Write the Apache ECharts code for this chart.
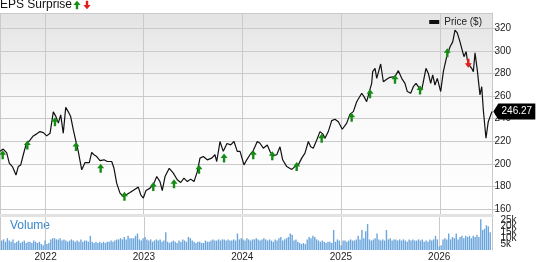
<!DOCTYPE html>
<html>
<head>
<meta charset="utf-8">
<script src="https://cdn.jsdelivr.net/npm/echarts@6/dist/echarts.min.js"></script>
<style>
html,body{margin:0;padding:0;background:#fff;}
#c{width:538px;height:262px;}
</style>
</head>
<body>
<div id="c"></div>
<script>
// ---- data (dates as decimal years) ----
const priceT = [2021.544,2021.577,2021.612,2021.638,2021.673,2021.706,2021.729,2021.754,2021.780,2021.807,2021.848,2021.881,2021.916,2021.949,2021.983,
2022.017,2022.051,2022.084,2022.111,2022.135,2022.159,2022.185,2022.210,2022.236,2022.260,2022.287,2022.314,2022.337,2022.372,2022.405,2022.449,2022.473,2022.496,2022.524,2022.557,2022.598,2022.631,2022.676,2022.699,2022.726,2022.760,2022.793,2022.861,2022.912,2022.945,2022.970,2022.996,
2023.023,2023.064,2023.097,2023.132,2023.165,2023.188,2023.216,2023.259,2023.300,2023.340,2023.375,2023.408,2023.442,2023.476,2023.510,2023.543,2023.570,2023.604,2023.644,2023.689,2023.722,2023.740,2023.773,2023.806,2023.844,2023.881,2023.915,2023.948,2023.976,
2024.016,2024.044,2024.077,2024.110,2024.151,2024.178,2024.212,2024.252,2024.280,2024.313,2024.348,2024.381,2024.408,2024.449,2024.500,2024.533,2024.566,2024.601,2024.634,2024.668,2024.692,2024.718,2024.753,2024.786,2024.814,2024.837,2024.870,2024.905,2024.938,2024.972,
2025.012,2025.057,2025.090,2025.124,2025.158,2025.209,2025.232,2025.259,2025.286,2025.310,2025.320,2025.344,2025.361,2025.384,2025.401,2025.428,2025.462,2025.495,2025.546,2025.580,2025.614,2025.647,2025.671,2025.705,2025.732,2025.759,2025.782,2025.817,2025.840,2025.860,2025.884,2025.908,2025.928,2025.951,2025.975,
2026.009,2026.036,2026.070,2026.104,2026.131,2026.154,2026.177,2026.205,2026.222,2026.245,2026.266,2026.279,2026.299,2026.323,2026.340,2026.357,2026.380,2026.407,2026.425,2026.441,2026.468,2026.491,2026.516,2026.529];
const priceV = [211,213,209.6,200.5,197,190,197.5,199,208,216.7,221,224.7,226.5,228.5,227.6,
224.7,227,246,241.8,236,243.3,227,250,246,241.8,230,219.7,211,194.6,201,201,210,208,206.4,202.8,203.5,202,202,196,182.8,174,171,174.5,177.5,179.3,172.5,169.6,
176.3,178.4,181.3,188.7,184.2,176.3,188.7,196,191.7,185.8,183.4,187.3,184.2,186.4,184.2,193,205,206.4,203.5,205,208,202,219.7,211,218,216.7,219.7,211,211,
199,203.5,208,211.7,219.7,218.2,213.8,216.7,210.8,207,208,215,203.5,197.5,195,197.5,199,205,209.4,219.7,215,213.8,221,228.5,226.5,222.6,228.5,238.2,239.5,237.3,
230.6,236,244,246.2,255,262.5,259.5,255,264,271.3,281.6,284.6,275.7,283,288.4,272.7,274.9,276.6,277.2,282.5,275.7,271.3,264,262.5,268.3,271.3,268.3,265.4,275.7,284.6,280,271.3,278.7,269.8,275.7,
264,281.6,294.9,303.7,308,318.5,316,308,302.3,294.9,299.3,292,287.5,284.6,281.6,298.4,283,261,268.3,247.7,222.6,237.3,243.3,246.27];

const epsUpT = [2021.571,2021.821,2022.101,2022.314,2022.564,2022.805,2023.097,2023.307,2023.560,2023.814,2024.110,2024.303,2024.550,2024.803,2025.107,2025.293,2025.546,2025.800,2026.076];
const epsUpV = [207.9,216.7,237.3,215.2,196.1,171.3,179.8,182.2,195.2,205,207.9,207,197.5,222.7,241.2,262.1,274.9,265.4,298.4];
const epsDownT = [2026.289];
const epsDownV = [289];

// weekly volume, thousands
const volume = [8,9,7,10,8,7,9,6,7,8, 6,7,8,6,7,7,6,8,7,6, 7,5,4,8,5,6,9,10,10,9, 9,10,8,9,8,7,8,9,8,7,
8,7,9,7,8,8,7,12,7,6, 7,6,7,6,7,6,7,7,8,7, 8,9,9,10,9,11,9,12,10,10, 10,12,14,9,8,10,11,9,8,9,
7,8,9,8,9,7,8,15,7,6, 7,8,7,6,8,7,9,8,7,11, 10,8,7,6,7,7,6,6,8,7, 7,8,9,8,8,9,8,9,9,8,
9,8,8,9,8,14,9,10,9,8, 10,9,8,9,9,10,9,8,9,10, 9,8,9,8,7,9,8,10,11,8, 9,10,11,14,13,8,9,7,6,5,
6,5,9,11,10,12,11,9,8,7, 8,7,6,7,7,6,17,7,9,8, 4,8,8,7,8,9,8,8,9,12, 9,17,10,16,22,9,8,9,10,14,
9,8,9,8,17,9,10,8,9,9, 8,9,8,9,8,7,9,8,9,8, 8,9,8,9,7,8,7,9,8,9, 12,9,3,4,9,10,9,14,9,11,
10,14,9,11,12,10,12,11,12,10, 12,11,13,11,26,17,18,21,20,15];
const volumeStartT = 2021.554;

// ---- helpers ----
const DAY = 864e5;
const toTs = t => Date.UTC(2022,0,1) + (t-2022)*365.25*DAY;
const priceData = priceT.map((t,i)=>[toTs(t), priceV[i]]);
const upData = epsUpT.map((t,i)=>[toTs(t), epsUpV[i]]);
const downData = epsDownT.map((t,i)=>[toTs(t), epsDownV[i]]);
const v0 = toTs(volumeStartT);
const volData = volume.map((v,i)=>[v0 + i*7*DAY, v]);
const lastPrice = priceV[priceV.length-1];
const lastTs = toTs(priceT[priceT.length-1]);

const FONT = '"Liberation Sans", Arial, sans-serif';
const GRID = '#cacaca';
const xMin = toTs(2021.544), xMax = toTs(2026.534);

const xBase = (gi, showLabel) => ({
  type:'time', gridIndex:gi, min:xMin, max:xMax,
  splitNumber:5, minInterval:365*DAY,
  axisLine:{show: gi===0, onZero:false, lineStyle:{color:'#e2e2e2', width:3}},
  axisTick:{show:false},
  splitLine:{show:true, lineStyle:{color:GRID, width:1}},
  axisLabel:{show:showLabel, formatter:'{yyyy}', fontSize:10, color:'#222', fontFamily:FONT, margin:2, hideOverlap:false}
});

const chart = echarts.init(document.getElementById('c'), null, {renderer:'canvas'});
chart.setOption({
  animation:false,
  textStyle:{fontFamily:FONT},
  grid:[
    {left:0, right:45.5, top:13, height:202, show:true, borderWidth:0,
     backgroundColor:new echarts.graphic.LinearGradient(0,0,0,1,[
       {offset:0,color:'#e3e3e3'},{offset:0.45,color:'#f9f9f9'},{offset:1,color:'#ffffff'}])},
    {left:0, right:45.5, top:216.5, height:35.2}
  ],
  legend:{data:['Price ($)'], right:56, top:17, padding:0, icon:'rect', itemWidth:10, itemHeight:4,
    textStyle:{fontSize:10, color:'#222', fontFamily:FONT}, selectedMode:false},
  xAxis:[xBase(0,false), xBase(1,true)],
  yAxis:[
    {type:'value', gridIndex:0, position:'right', min:154.6, max:333.6, splitNumber:8,
     axisLine:{show:true, lineStyle:{color:'#c8c8c8'}},
     axisTick:{show:true, length:6, lineStyle:{color:'#c8c8c8'}},
     axisLabel:{fontSize:10, color:'#222', margin:2, showMinLabel:false, showMaxLabel:false, fontFamily:FONT},
     splitLine:{show:true, lineStyle:{color:GRID}}},
    {type:'value', gridIndex:1, position:'right', min:0, max:28.4, interval:5,
     axisLine:{show:true, lineStyle:{color:'#c8c8c8'}},
     axisTick:{show:false},
     axisLabel:{fontSize:10, color:'#222', margin:8, showMaxLabel:false, fontFamily:FONT,
       formatter:v=> v===0 ? '0' : v+'k'},
     splitLine:{show:false}}
  ],
  series:[
    {name:'Price ($)', type:'line', xAxisIndex:0, yAxisIndex:0, data:priceData, showSymbol:false,
     lineStyle:{color:'#111', width:1.2}, itemStyle:{color:'#111'}, z:3,
     markPoint:{symbol:'path://M0,8L5,0H42V16H5Z', symbolSize:[42,16], symbolOffset:[22.3,0],
       itemStyle:{color:'#000'},
       label:{show:true, position:'inside', color:'#fff', fontSize:10, fontFamily:FONT, offset:[2.5,0],
         formatter:()=>lastPrice.toFixed(2)},
       data:[{coord:[lastTs,lastPrice]}]}},
    {name:'EPS up', type:'scatter', xAxisIndex:0, yAxisIndex:0, data:upData,
     symbol:'path://M3.5,0L7,4.5H4.7V9H2.3V4.5H0Z', symbolSize:[7,9], itemStyle:{color:'#168c16', opacity:1}, z:4},
    {name:'EPS down', type:'scatter', xAxisIndex:0, yAxisIndex:0, data:downData,
     symbol:'path://M2.3,0H4.7V4.5H7L3.5,9L0,4.5H2.3Z', symbolSize:[7,9], itemStyle:{color:'#e41b1b', opacity:1}, z:4},
    {name:'Volume', type:'bar', xAxisIndex:1, yAxisIndex:1, data:volData, barWidth:1.4,
     itemStyle:{color:'#6aa5dc'}}
  ],
  graphic:[
    {type:'text', left:0, top:-1, style:{text:'EPS Surprise', font:'12px '+FONT, fill:'#111'}},
    {type:'polygon', shape:{points:[[77,0.7],[80.6,5],[78.2,5],[78.2,9.2],[75.8,9.2],[75.8,5],[73.4,5]]}, style:{fill:'#168c16'}},
    {type:'polygon', shape:{points:[[85.8,0.7],[88.2,0.7],[88.2,4.9],[90.6,4.9],[87,9.2],[83.4,4.9],[85.8,4.9]]}, style:{fill:'#e41b1b'}},
    {type:'text', left:10, top:220, style:{text:'Volume', font:'12px '+FONT, fill:'#3a88cc'}}
  ]
});
</script>
</body>
</html>
